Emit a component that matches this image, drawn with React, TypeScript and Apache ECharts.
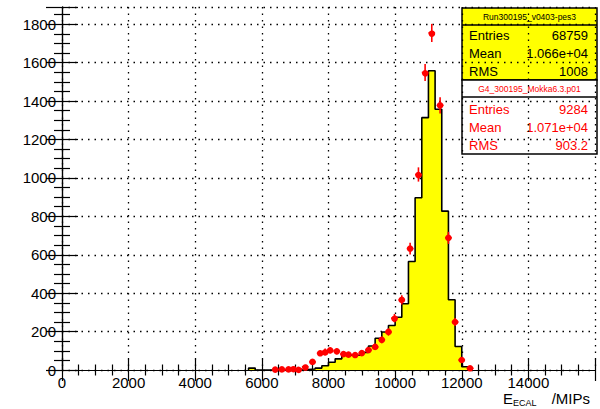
import React, { useEffect, useRef } from 'react';
import * as echarts from 'echarts';

// ---- data ----
const binWidth = 200;
const dataBinStart = 5600;
// Run300195 data histogram (yellow), one value per 200-MIP bin starting at 5600
const dataCounts = [10, 0, 0, 0, 0, 0, 0, 0, 3, 5, 10, 22, 40, 58, 78, 76, 78, 92, 125, 165, 198, 232, 275, 345, 565, 897, 1314, 1558, 1358, 827, 366, 122, 17];

// G4 / Mokka simulation points (red)
const mcX = [6400, 6600, 6800, 6950, 7100, 7300, 7520, 7750, 7900, 8050, 8250, 8450, 8600, 8800, 9000, 9200, 9400, 9600, 9800, 9980, 10200, 10450, 10700, 10900, 11100, 11350, 11600, 11800, 12000, 12250];
const mcY = [2, 3, 3, 4, 6, 17, 42, 87, 97, 102, 97, 83, 80, 78, 88, 104, 120, 157, 198, 270, 365, 632, 1018, 1549, 1755, 1378, 688, 250, 52, 9];
const mcErr = [1.4, 1.7, 1.7, 2, 2.4, 4.1, 6.5, 9.3, 9.8, 10.1, 9.8, 9.1, 8.9, 8.8, 9.4, 10.2, 11, 12.5, 14.1, 16.4, 19.1, 25.1, 31.9, 39.4, 41.9, 37.1, 26.2, 15.8, 7.2, 3];

const xMin = 0;
const xMax = 16000;
const xInterval = 2000;
const yMin = 0;
const yMax = 1890;
const yInterval = 200;

const dataTitle = 'Run300195_v0403-pes3';
const dataStats = [['Entries', '68759'], ['Mean', '1.066e+04'], ['RMS', '1008']];
const mcTitle = 'G4_300195_Mokka6.3.p01';
const mcStats = [['Entries', '9284'], ['Mean', '1.071e+04'], ['RMS', '903.2']];

const FONT = '"Liberation Sans", Arial, Helvetica, sans-serif';

export default function App() {
  const ref = useRef<HTMLDivElement>(null);

  useEffect(() => {
    document.body.style.margin = '0';
    if (!ref.current) return;
    const chart = echarts.init(ref.current, null, { renderer: 'svg' });

    const histData: number[][] = [[dataBinStart, 0]];
    dataCounts.forEach((v, i) => histData.push([dataBinStart + i * binWidth, v]));
    histData.push([dataBinStart + dataCounts.length * binWidth, 0]);

    const mcData = mcX.map((x, i) => [x, mcY[i], mcErr[i]]);

    const gridLine = { show: true, lineStyle: { color: '#000', type: [1.5, 5] as any, width: 1.3 } };

    const statText = (x: number, y: number, text: string, fill: string, align: string, size = 13) => ({
      type: 'text',
      x,
      y,
      style: { text, fill, fontSize: size, fontFamily: FONT, align, verticalAlign: 'middle' },
    });

    const graphics: any[] = [
      { type: 'rect', shape: { x: 462, y: 8, width: 135, height: 72 }, style: { fill: '#ffff00', stroke: '#000', lineWidth: 1.5 } },
      { type: 'line', shape: { x1: 462, y1: 25, x2: 597, y2: 25 }, style: { stroke: '#000', lineWidth: 1.5 } },
      statText(529.5, 17, dataTitle, '#000', 'center', 8.5),
      { type: 'rect', shape: { x: 462, y: 80, width: 135, height: 74 }, style: { fill: '#ffffff', stroke: '#000', lineWidth: 1.5 } },
      { type: 'line', shape: { x1: 462, y1: 97, x2: 597, y2: 97 }, style: { stroke: '#000', lineWidth: 1.5 } },
      statText(529.5, 89, mcTitle, '#ff0000', 'center', 8.5),
    ];
    const rows1 = [35, 53, 71];
    dataStats.forEach((r, i) => {
      graphics.push(statText(469, rows1[i], r[0], '#000', 'left'));
      graphics.push(statText(588, rows1[i], r[1], '#000', 'right'));
    });
    const rows2 = [109, 127, 145];
    mcStats.forEach((r, i) => {
      graphics.push(statText(469, rows2[i], r[0], '#ff0000', 'left'));
      graphics.push(statText(588, rows2[i], r[1], '#ff0000', 'right'));
    });
    // x-axis title E_ECAL /MIPs
    graphics.push({ type: 'text', x: 503, y: 398, style: { text: 'E', fill: '#000', fontSize: 15, fontFamily: FONT, align: 'left', verticalAlign: 'middle' } });
    graphics.push({ type: 'text', x: 513, y: 403, style: { text: 'ECAL', fill: '#000', fontSize: 9, fontFamily: FONT, align: 'left', verticalAlign: 'middle' } });
    graphics.push({ type: 'text', x: 590, y: 398, style: { text: '/MIPs', fill: '#000', fontSize: 15, fontFamily: FONT, align: 'right', verticalAlign: 'middle' } });

    const axisLine = { show: true, lineStyle: { color: '#000', width: 1.2 } };

    chart.setOption({
      animation: false,
      grid: { left: 62, right: 5, top: 7, bottom: 39, show: false },
      xAxis: [
        {
          type: 'value', min: xMin, max: xMax, interval: xInterval, position: 'bottom',
          axisLine,
          axisTick: { show: true, inside: true, length: 11, lineStyle: { color: '#000', width: 1.2 } },
          minorTick: { show: true, splitNumber: 4, length: 5.5, lineStyle: { color: '#000', width: 1.2 } },
          axisLabel: {
            show: true, margin: 5, color: '#000', fontSize: 15, fontFamily: FONT,
            formatter: (v: number) => (v === xMax ? '' : String(v)),
          },
          splitLine: gridLine,
        },
        {
          type: 'value', min: xMin, max: xMax, interval: xInterval, position: 'top',
          axisLine,
          axisTick: { show: true, inside: true, length: 11, lineStyle: { color: '#000', width: 1.2 } },
          minorTick: { show: true, splitNumber: 4, length: 5.5, lineStyle: { color: '#000', width: 1.2 } },
          axisLabel: { show: false },
          splitLine: { show: false },
        },
      ],
      yAxis: [
        {
          type: 'value', min: yMin, max: yMax, interval: yInterval, position: 'left',
          axisLine,
          axisTick: { show: true, inside: true, length: 16, lineStyle: { color: '#000', width: 1.2 } },
          minorTick: { show: true, splitNumber: 4, length: 8, lineStyle: { color: '#000', width: 1.2 } },
          axisLabel: {
            show: true, margin: 6, color: '#000', fontSize: 15, fontFamily: FONT,
            formatter: (v: number) => (v % yInterval === 0 ? String(v) : ''),
          },
          splitLine: gridLine,
        },
        {
          type: 'value', min: yMin, max: yMax, interval: yInterval, position: 'right',
          axisLine,
          axisTick: { show: true, inside: true, length: 16, lineStyle: { color: '#000', width: 1.2 } },
          minorTick: { show: true, splitNumber: 4, length: 8, lineStyle: { color: '#000', width: 1.2 } },
          axisLabel: { show: false },
          splitLine: { show: false },
        },
      ],
      series: [
        {
          name: 'data',
          type: 'line',
          step: 'end',
          xAxisIndex: 0,
          yAxisIndex: 0,
          data: histData,
          symbol: 'none',
          lineStyle: { color: '#000', width: 1.6 },
          areaStyle: { color: '#ffff00', opacity: 1 },
          z: 2,
        },
        {
          name: 'mc',
          type: 'custom',
          xAxisIndex: 0,
          yAxisIndex: 0,
          data: mcData,
          z: 3,
          renderItem: (params: any, api: any) => {
            const x = api.value(0);
            const y = api.value(1);
            const e = api.value(2);
            const c = api.coord([x, y]);
            const hi = api.coord([x, y + e]);
            const lo = api.coord([x, Math.max(0, y - e)]);
            const l = api.coord([x - binWidth / 2, y]);
            const r = api.coord([x + binWidth / 2, y]);
            return {
              type: 'group',
              children: [
                { type: 'line', shape: { x1: c[0], y1: hi[1] - 1, x2: c[0], y2: lo[1] + 1 }, style: { stroke: '#ff0000', lineWidth: 1.6 } },
                { type: 'line', shape: { x1: l[0], y1: c[1], x2: r[0], y2: c[1] }, style: { stroke: '#ff0000', lineWidth: 1.6 } },
                { type: 'circle', shape: { cx: c[0], cy: c[1], r: 3.3 }, style: { fill: '#ff0000' } },
              ],
            };
          },
        },
      ],
      graphic: graphics,
    });

    return () => chart.dispose();
  }, []);

  return <div ref={ref} style={{ width: 600, height: 409 }} />;
}
